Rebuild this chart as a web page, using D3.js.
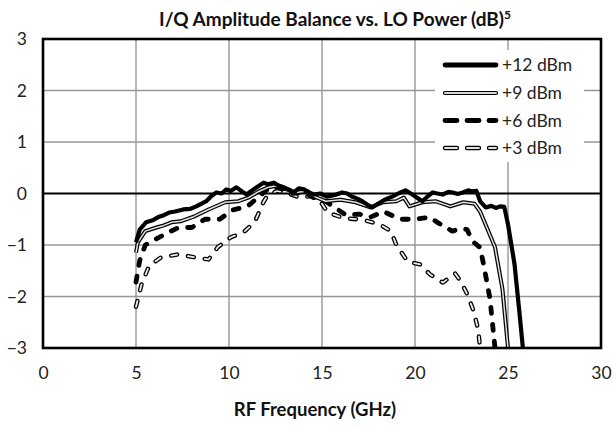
<!DOCTYPE html>
<html><head><meta charset="utf-8">
<script src="https://cdn.jsdelivr.net/npm/d3@7"></script>
<style>body{margin:0;background:#fff}svg{display:block}</style>
</head><body><svg id="c" width="613" height="428"></svg>
<script>
const xTicks = [0,5,10,15,20,25,30];
const yTicks = [-3,-2,-1,0,1,2,3];
const seriesNames = ["+12 dBm","+9 dBm","+6 dBm","+3 dBm"];
const freq12 = [5.0,5.2,5.54,5.9,6.24,6.5,6.78,7.1,7.54,7.9,8.24,8.5,8.78,9.05,9.32,9.6,9.86,10.1,10.4,10.7,10.95,11.2,11.49,11.86,12.1,12.4,12.7,12.95,13.2,13.49,13.75,14.03,14.3,14.57,14.9,15.27,15.7,16.08,16.35,16.6,16.9,17.16,17.45,17.7,18.0,18.24,18.5,18.78,19.1,19.49,19.86,20.1,20.4,20.7,20.95,21.2,21.49,21.8,22.03,22.3,22.57,22.85,23.1,23.3,23.5,23.8,24.1,24.35,24.57,24.8,25.0,25.35,25.62,25.8];
const val12  = [-0.95,-0.7,-0.56,-0.52,-0.45,-0.42,-0.37,-0.35,-0.31,-0.3,-0.25,-0.2,-0.15,-0.05,0.02,0.0,0.08,0.05,0.12,0.04,-0.02,0.05,0.12,0.21,0.18,0.21,0.15,0.12,0.08,0.02,0.1,0.08,0.02,-0.02,0.0,-0.06,-0.03,0.02,0.0,-0.06,-0.1,-0.15,-0.22,-0.27,-0.2,-0.15,-0.1,-0.06,0.0,0.06,-0.02,-0.08,-0.15,-0.05,0.02,0.0,-0.02,0.03,0.02,-0.01,0.02,0.06,0.04,0.05,-0.15,-0.27,-0.24,-0.28,-0.25,-0.26,-0.6,-1.37,-2.33,-3.0];
const freq9 = [5.0,5.1,5.5,6.1,6.5,6.9,7.4,8.1,8.9,9.8,10.5,11.05,11.6,12.1,12.6,13.1,13.6,14.2,14.6,15.2,16.0,16.8,17.6,18.3,19.0,19.4,19.7,20.4,21.1,21.9,22.6,23.2,23.5,24.3,24.7,25.0];
const val9  = [-1.15,-0.95,-0.73,-0.66,-0.62,-0.56,-0.54,-0.45,-0.31,-0.17,-0.15,-0.08,0.04,0.12,0.15,0.08,0.02,0.05,-0.06,-0.15,-0.12,-0.17,-0.27,-0.17,-0.15,-0.08,-0.25,-0.17,-0.15,-0.25,-0.17,-0.2,-0.35,-1.04,-1.85,-3.0];
const freq6 = [5.0,5.2,5.5,6.0,6.6,7.3,8.0,8.7,9.5,10.2,11.0,11.6,12.2,12.8,13.4,14.0,14.6,15.2,15.8,16.3,17.0,17.6,18.3,19.2,20.0,20.8,21.2,22.0,22.5,22.8,23.1,23.5,23.7,24.03,24.3];
const val6  = [-1.72,-1.3,-1.0,-0.9,-0.78,-0.66,-0.66,-0.5,-0.5,-0.32,-0.25,-0.06,0.12,0.1,0.0,0.02,-0.08,-0.15,-0.3,-0.42,-0.4,-0.46,-0.35,-0.5,-0.5,-0.46,-0.56,-0.73,-0.68,-0.7,-0.93,-1.05,-1.4,-2.04,-3.0];
const freq3 = [5.0,5.3,5.7,6.35,7.3,8.15,8.9,9.4,10.1,10.8,11.4,11.85,12.1,12.6,13.2,13.8,14.4,15.0,15.3,16.2,17.2,18.1,18.7,19.0,19.6,20.3,20.8,21.5,22.15,22.45,22.8,23.15,23.4,23.5];
const val3  = [-2.2,-1.76,-1.41,-1.24,-1.18,-1.24,-1.28,-1.04,-0.85,-0.75,-0.54,-0.17,-0.02,0.05,0.0,-0.08,-0.05,-0.2,-0.37,-0.48,-0.51,-0.6,-0.73,-1.0,-1.32,-1.38,-1.57,-1.73,-1.55,-1.7,-1.95,-2.28,-2.65,-3.0];

const svg = d3.select("#c");
const L=43,R=601,T=39,B=348;
const x = d3.scaleLinear().domain([0,30]).range([L,R]);
const y = d3.scaleLinear().domain([-3,3]).range([B,T]);
const font = "Lato, 'Open Sans', sans-serif";

svg.append("defs").append("clipPath").attr("id","clip").append("rect")
  .attr("x",L).attr("y",T).attr("width",R-L).attr("height",B-T);

// grid
svg.append("g").selectAll("line").data(xTicks.slice(1,-1)).join("line")
  .attr("x1",d=>x(d)).attr("x2",d=>x(d)).attr("y1",T).attr("y2",B)
  .attr("stroke","#979797").attr("stroke-width",1.4);
svg.append("g").selectAll("line").data(yTicks.filter(v=>v!==0 && Math.abs(v)<3)).join("line")
  .attr("x1",L).attr("x2",R).attr("y1",d=>y(d)).attr("y2",d=>y(d))
  .attr("stroke","#979797").attr("stroke-width",1.4);
svg.append("line").attr("x1",L).attr("x2",R).attr("y1",y(0)).attr("y2",y(0))
  .attr("stroke","#000").attr("stroke-width",2);

// axes labels via d3 axes
const xAxis = svg.append("g").attr("transform",`translate(0,${B})`)
  .call(d3.axisBottom(x).tickValues(xTicks).tickSize(0).tickPadding(19));
xAxis.select(".domain").remove();
xAxis.selectAll("text").attr("font-family",font).attr("font-size",17.5).attr("fill","#222");
const yAxis = svg.append("g").attr("transform",`translate(${L},0)`)
  .call(d3.axisLeft(y).tickValues(yTicks).tickSize(0).tickPadding(16).tickFormat(d3.format("d")));
yAxis.select(".domain").remove();
yAxis.selectAll("text").attr("font-family",font).attr("font-size",17.5).attr("fill","#222");

// series
const line = d3.line().x(d=>x(d[0])).y(d=>y(d[1])).curve(d3.curveLinear);
const g = svg.append("g").attr("clip-path","url(#clip)");
const d3s = d3.zip(freq3,val3), d6 = d3.zip(freq6,val6), d9 = d3.zip(freq9,val9), d12 = d3.zip(freq12,val12);
const plotDash = "6,11";
g.append("path").attr("d",line(d3s)).attr("fill","none").attr("stroke","#000").attr("stroke-width",4.4)
  .attr("stroke-dasharray",plotDash).attr("stroke-linecap","round").attr("stroke-linejoin","round");
g.append("path").attr("d",line(d3s)).attr("fill","none").attr("stroke","#ededed").attr("stroke-width",1.8)
  .attr("stroke-dasharray",plotDash).attr("stroke-linecap","round").attr("stroke-linejoin","round");
g.append("path").attr("d",line(d6)).attr("fill","none").attr("stroke","#000").attr("stroke-width",4.8)
  .attr("stroke-dasharray",plotDash).attr("stroke-linecap","round").attr("stroke-linejoin","round");
g.append("path").attr("d",line(d9)).attr("fill","none").attr("stroke","#000").attr("stroke-width",4)
  .attr("stroke-linejoin","round");
g.append("path").attr("d",line(d9)).attr("fill","none").attr("stroke","#e4e4e4").attr("stroke-width",1.5)
  .attr("stroke-linejoin","round");
g.append("path").attr("d",line(d12)).attr("fill","none").attr("stroke","#000").attr("stroke-width",4.2)
  .attr("stroke-linejoin","round");

// border
svg.append("rect").attr("x",L).attr("y",T).attr("width",R-L).attr("height",B-T)
  .attr("fill","none").attr("stroke","#000").attr("stroke-width",2.6);

// legend
const lg = svg.append("g");
lg.append("rect").attr("x",435).attr("y",50).attr("width",149).attr("height",112).attr("fill","#fff");
const rows = [65,93,120.5,148];
const legDash = "12,10";
seriesNames.forEach((n,i)=>{
  const yy = rows[i];
  const seg = lg.append("g");
  const mk = () => seg.append("line").attr("x1",445).attr("x2",496).attr("y1",yy).attr("y2",yy)
      .attr("stroke-linecap","round");
  if(i===0){ mk().attr("stroke","#000").attr("stroke-width",4.8); }
  if(i===1){ mk().attr("stroke","#000").attr("stroke-width",4.2); mk().attr("stroke","#d8d8d8").attr("stroke-width",1.8); }
  if(i===2){ mk().attr("stroke","#000").attr("stroke-width",4.8).attr("stroke-dasharray",legDash); }
  if(i===3){ mk().attr("stroke","#000").attr("stroke-width",4.4).attr("stroke-dasharray",legDash);
             mk().attr("stroke","#e0e0e0").attr("stroke-width",1.8).attr("stroke-dasharray",legDash); }
  lg.append("text").attr("x",502).attr("y",yy).attr("dy","0.35em").attr("font-family",font)
    .attr("font-size",17.5).attr("fill","#222").text(n);
});

// titles
const title = svg.append("text").attr("x",335).attr("y",26).attr("text-anchor","middle")
  .attr("font-family",font).attr("font-weight","bold").attr("font-size",19).attr("fill","#111");
title.append("tspan").text("I/Q Amplitude Balance vs. LO Power (dB)");
title.append("tspan").attr("font-size",12).attr("dy",-7).text("5");
svg.append("text").attr("x",315).attr("y",410).attr("dy","0.35em").attr("text-anchor","middle")
  .attr("font-family",font).attr("font-weight","bold").attr("font-size",18.5).attr("fill","#111")
  .text("RF Frequency (GHz)");
</script></body></html>
